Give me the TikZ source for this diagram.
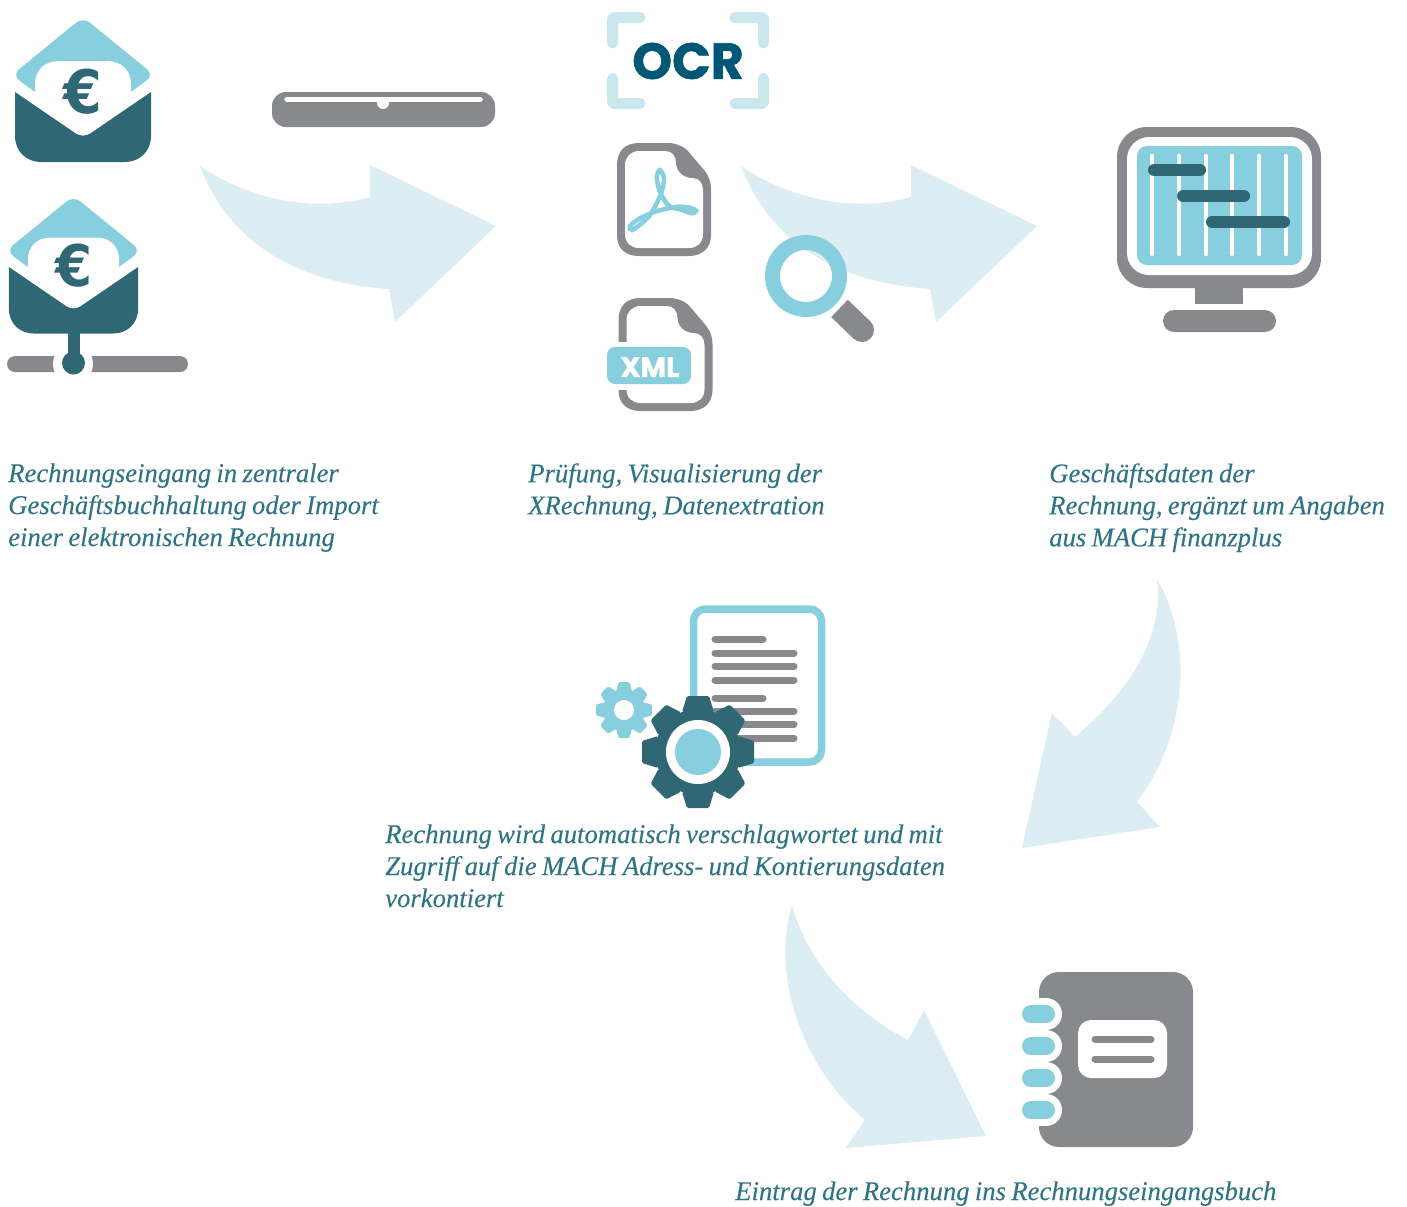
\documentclass[tikz,border=0pt]{standalone}
\usepackage{fontspec}
\setmainfont{Liberation Serif}
\newfontfamily\capfont{Liberation Serif}[FakeStretch=0.985,WordSpace=0.8,ItalicFeatures={FakeBold=0.15}]
\newfontfamily\iconfont{Poppins}[BoldFeatures={FakeBold=1.2}]
\newfontfamily\eurofont{DejaVu Sans}[FakeStretch=0.93]
\definecolor{teal}{HTML}{2F6775}
\definecolor{lblue}{HTML}{87CFDE}
\definecolor{pale}{HTML}{DCEEF4}
\definecolor{corner}{HTML}{CBE7EE}
\definecolor{midgray}{HTML}{87898D}
\definecolor{navy}{HTML}{005677}
\definecolor{captext}{HTML}{2E7485}
\def\px{0.75pt}
\tikzset{
  x=0.75pt,y=-0.75pt,
  flow/.style={fill=pale,draw=none},
  caption/.style={anchor=north west,inner sep=0pt,align=left,text=captext,
    font=\capfont\itshape\fontsize{20.3pt}{24pt}\selectfont},
  gbar/.style={draw=midgray,line width=7*\px,line cap=round},
  wline/.style={draw=white,line width=4.5*\px,line cap=round},
  dbar/.style={draw=teal,line width=12*\px,line cap=round},
  ocrc/.style={draw=corner,line width=11*\px,line cap=round,line join=round,rounded corners=2*\px},
  icontext/.style={inner sep=0pt,font=\iconfont\bfseries},
}
% envelope at origin = centre of the body top
\newcommand{\envelope}[3]{% x,y,scale
  \begin{scope}[shift={(#1,#2)},scale=#3]
    \fill[lblue] (-48,0) [rounded corners=9*\px] -- (-71,-17) -- (0,-75) -- (71,-17) [sharp corners] -- (48,0) -- cycle;
    \fill[white] (-48,12) -- (-48,-8) .. controls (-48,-22) and (-38,-31) .. (-24,-31) -- (24,-31) .. controls (38,-31) and (48,-22) .. (48,-8) -- (48,12) -- cycle;
    \fill[teal] (-68,0)--(-8,41) .. controls (-3,44.5) and (3,44.5) .. (8,41)--(68,0)--(68,44) .. controls (68,60) and (56,70) .. (42,70)--(-42,70) .. controls (-56,70) and (-68,60) .. (-68,44)--cycle;
  \end{scope}
}
\newcommand{\docshape}[2]{% x,y
  \begin{scope}[shift={(#1,#2)}]
    \fill[midgray] (0,22) .. controls (0,8) and (8,0) .. (22,0) -- (50,0) .. controls (58,0) and (64,2) .. (70,7) -- (87,27) .. controls (92,33) and (94,39) .. (94,46) -- (94,92) .. controls (94,105) and (85,113) .. (72,113) -- (22,113) .. controls (8,113) and (0,105) .. (0,92) -- cycle;
    \fill[white] (8,22) .. controls (8,14) and (14,8) .. (22,8) -- (48,8) .. controls (55,8) and (59,13) .. (59,20) .. controls (59,29) and (67,35) .. (75,35) .. controls (82,35) and (86,40) .. (86,47) -- (86,91) .. controls (86,100) and (80,105) .. (72,105) -- (22,105) .. controls (14,105) and (8,100) .. (8,91) -- cycle;
  \end{scope}
}
\newcommand{\gear}[7]{% x,y,outer,root,tip half,base half,colour
  \begin{scope}[shift={(#1,#2)}]
    \fill[#7] (0,0) circle[radius=#4];
    \foreach \a in {0,45,...,315}{
      \fill[#7,rotate=\a,rounded corners=1.5*\px] (-#6,-#4+3)--(-#5,-#3)--(#5,-#3)--(#6,-#4+3)--cycle;
    }
  \end{scope}
}
\begin{document}
\begin{tikzpicture}
\useasboundingbox (0,0) rectangle (1407,1207);
% flow arrows
\fill[flow] (200,166) .. controls (245,197) and (310,214) .. (370,197) -- (370,165) -- (496,226) -- (395,322) -- (389,289) .. controls (300,283) and (230,245) .. (200,166) -- cycle;
\fill[flow] (741,166) .. controls (786,197) and (851,214) .. (911,197) -- (911,165) -- (1037,226) -- (936,322) -- (930,289) .. controls (841,283) and (771,245) .. (741,166) -- cycle;
\fill[flow] (1157,579) .. controls (1192,640) and (1190,730) .. (1137,802) -- (1160,827) -- (1022,848) -- (1052,713) -- (1075,737) .. controls (1125,695) and (1165,640) .. (1157,579) -- cycle;
\fill[flow] (792,905) .. controls (770,980) and (805,1070) .. (865,1120) -- (846,1148) -- (986,1136) -- (924,1010) -- (908,1040) .. controls (860,1015) and (810,970) .. (792,905) -- cycle;
% envelopes
\envelope{83}{92}{1}
\node[inner sep=0pt,text=teal,font=\eurofont\bfseries\fontsize{45pt}{45pt}\selectfont] (euroA) at (83,92) {€};
\fill[midgray,rounded corners=8*\px] (7,356) rectangle (188,372);
\fill[white] (73,364) circle[radius=20];
\envelope{73.5}{267}{0.95}
\node[inner sep=0pt,text=teal,font=\eurofont\bfseries\fontsize{43pt}{43pt}\selectfont] (euroB) at (74,266) {€};
\fill[teal] (67.5,330) rectangle (79.5,355);
\fill[teal] (73.5,363) circle[radius=11.5];
% scanner
\fill[midgray,rounded corners=14*\px] (272,92) rectangle (495,127);
\draw[wline,line width=5.5*\px] (287,99.5)--(480,99.5);
\fill[white] (383,103) circle[radius=6];
% OCR
\draw[ocrc] (612.5,43)--(612.5,17.5)--(640,17.5);
\draw[ocrc] (735,17.5)--(763.5,17.5)--(763.5,43);
\draw[ocrc] (612.5,78.5)--(612.5,103.5)--(640,103.5);
\draw[ocrc] (735,103.5)--(763.5,103.5)--(763.5,78.5);
\node[icontext,text=navy,font=\iconfont\bfseries\fontsize{38pt}{38pt}\selectfont] (ocr) at (688,61) {OCR};
% pdf
\docshape{617}{143}
\draw[lblue,line width=4.5*\px] plot[smooth cycle,tension=.55] coordinates {(660,170) (656.7,176.7) (659.3,190) (663.3,198.3) (670,206.7) (680,209.3) (691.7,213.3) (696,210.7) (690,207.7) (678.3,206.7) (666.7,208.7) (655,211.7) (640,218.3) (630,226) (632,230) (641.7,223.3) (650,215) (656.7,203.3) (661.7,191.7) (664,178.3)};
% xml
\docshape{618.5}{298}
\fill[white] (612,342) rectangle (640,390);
\fill[lblue,rounded corners=8*\px] (607,347) rectangle (691,384);
\node[icontext,text=white,font=\iconfont\bfseries\fontsize{21pt}{21pt}\selectfont] (xml) at (650,367) {XML};
% magnifier
\draw[midgray,line width=24*\px] (839.5,308.5)--(862,330);
\fill[midgray] (862,330) circle[radius=12];
\draw[lblue,line width=15*\px] (806,276) circle[radius=33.5];
% monitor
\fill[midgray,rounded corners=30*\px] (1117,127) rectangle (1321,288);
\fill[white,rounded corners=22*\px] (1127,137) rectangle (1312,275);
\fill[lblue,rounded corners=10*\px] (1137,146) rectangle (1302,265);
\fill[midgray] (1195,287) rectangle (1243,304);
\fill[midgray,rounded corners=11*\px] (1163,310) rectangle (1276,332);
\foreach \x in {1152,1179,1206,1232,1259,1286}{\draw[wline] (\x,156)--(\x,254);}
\draw[dbar] (1154,170)--(1200,170);
\draw[dbar] (1183,196)--(1244,196);
\draw[dbar] (1212,222)--(1284,222);
% document
\draw[lblue,line width=7.5*\px,fill=white,rounded corners=12*\px] (693.5,609) rectangle (821.5,762);
\foreach \y/\e in {639/763,653/794,666/794,680/794,698/763,711/794,724/794,738/794}{\draw[gbar] (715,\y)--(\e,\y);}
% gears
\gear{624}{710}{28}{21}{5.5}{8}{lblue}
\fill[white] (624,710) circle[radius=10];
\gear{698}{752}{56}{43}{11}{16}{teal}
\fill[white] (698,752) circle[radius=32];
\fill[lblue] (698,752) circle[radius=23];
% notebook
\fill[midgray,rounded corners=20*\px] (1039,972) rectangle (1193,1147);
\foreach \y in {1014,1046,1078,1110}{
  \draw[white,line width=32*\px,line cap=round] (1030,\y)--(1046,\y);
}
\fill[white] (1020,998) rectangle (1039,1126);
\foreach \y in {1014,1046,1078,1110}{
  \draw[lblue,line width=18*\px,line cap=round] (1031,\y)--(1046,\y);
}
\fill[white,rounded corners=13*\px] (1078,1020) rectangle (1167,1078);
\draw[gbar] (1095,1039)--(1151,1039);
\draw[gbar] (1095,1059)--(1151,1059);
% captions
\node[caption] (capA) at (8,463) {Rechnungseingang in zentraler\\Geschäftsbuchhaltung oder Import\\einer elektronischen Rechnung};
\node[caption] (capB) at (528,463) {Prüfung, Visualisierung der\\XRechnung, Datenextration};
\node[caption] (capC) at (1049,463) {Geschäftsdaten der\\Rechnung, ergänzt um Angaben\\aus MACH finanzplus};
\node[caption] (capD) at (385,824) {Rechnung wird automatisch verschlagwortet und mit\\Zugriff auf die MACH Adress- und Kontierungsdaten\\vorkontiert};
\node[caption] (capE) at (735,1181) {Eintrag der Rechnung ins Rechnungseingangsbuch};
\end{tikzpicture}
\end{document}
